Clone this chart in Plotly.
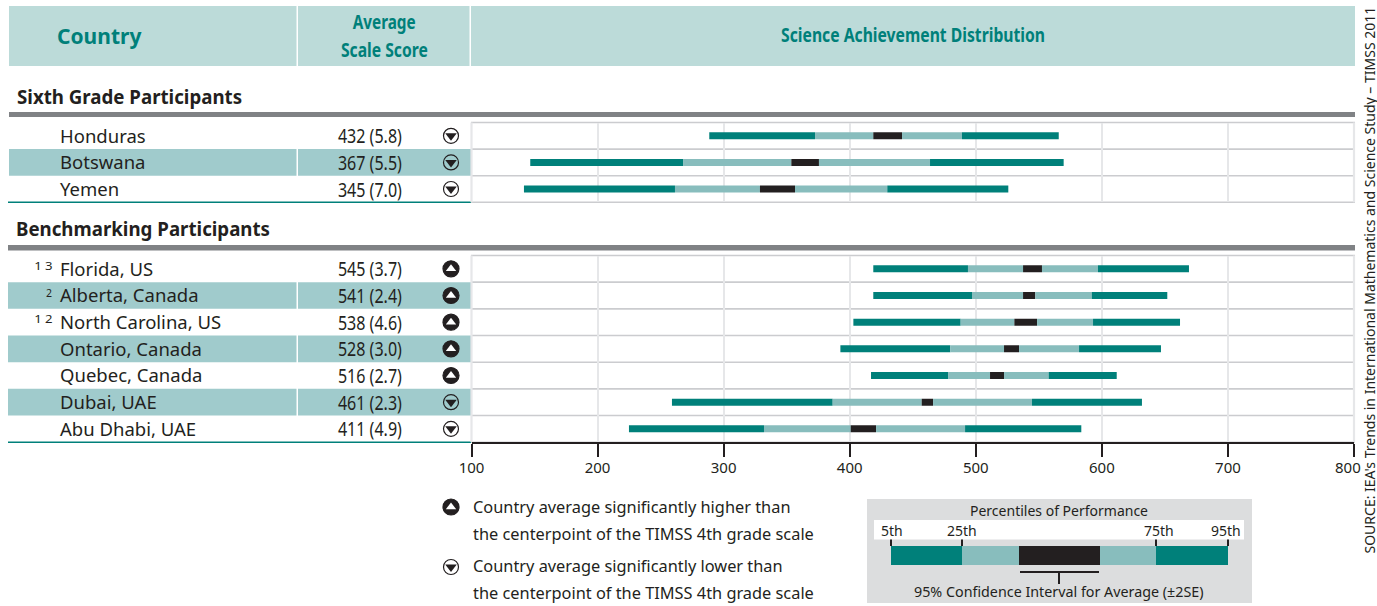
import json
import plotly.graph_objects as go

W, H = 1377, 606

# ---- data -----
sixth_names = ["Honduras", "Botswana", "Yemen"]
sixth_scores = ["432 (5.8)", "367 (5.5)", "345 (7.0)"]
sixth_sig = ["down", "down", "down"]
sixth_p5 = [288.6, 146.6, 141.6]
sixth_p25 = [372.5, 267.8, 261.4]
sixth_lo = [418.7, 353.7, 328.8]
sixth_hi = [441.5, 375.6, 356.6]
sixth_p75 = [489.0, 463.7, 429.8]
sixth_p95 = [565.8, 569.7, 525.8]

bench_names = ["Florida, US", "Alberta, Canada", "North Carolina, US", "Ontario, Canada",
               "Quebec, Canada", "Dubai, UAE", "Abu Dhabi, UAE"]
bench_notes = ["1 3", "2", "1 2", "", "", "", ""]
bench_scores = ["545 (3.7)", "541 (2.4)", "538 (4.6)", "528 (3.0)", "516 (2.7)", "461 (2.3)", "411 (4.9)"]
bench_sig = ["up", "up", "up", "up", "up", "down", "down"]
bench_p5 = [418.7, 418.7, 402.9, 392.6, 416.9, 259.0, 224.9]
bench_p25 = [493.8, 497.0, 488.0, 479.8, 478.0, 386.5, 332.0]
bench_lo = [537.5, 537.5, 530.6, 522.4, 511.3, 457.1, 400.8]
bench_hi = [552.5, 547.2, 548.6, 534.3, 522.4, 466.1, 420.9]
bench_p75 = [596.9, 592.0, 593.0, 581.9, 557.8, 544.6, 491.5]
bench_p95 = [669.1, 651.9, 662.0, 646.9, 611.8, 631.8, 583.7]

tick_values = [100, 200, 300, 400, 500, 600, 700, 800]
key_labels = ["5th", "25th", "75th", "95th"]
key_edges = [0, 71, 128, 209, 265, 337]

# ---- style ----
TEAL = "#00807a"
LIGHT = "#88bdbd"
BLACK = "#231f20"
HEAD = "#bcdbd9"
BAND = "#a0cbcc"
RULE = "#808285"
HLINE = "#cbcccf"
VGRID = "#e6e7e9"
KEYBG = "#dcddde"
SANS = "Noto Sans"
SEGS = [(TEAL, 0), (LIGHT, 1), (BLACK, 2), (LIGHT, 3), (TEAL, 4)]

# condensed texts: target width of the rendered string, in pixels
narrow_widths = {s: 64 for s in sixth_scores + bench_scores}
narrow_widths.update({"Average": 63, "Scale Score": 87, "Science Achievement Distribution": 264,
                      "1 3": 18.5, "1 2": 18.5})

px = lambda x: x / W
py = lambda y: 1 - y / H

fig = go.Figure()


def add_rows(names, yaxis, cols):
    for colour, i in SEGS:
        fig.add_trace(go.Bar(
            y=names, x=[b - a for a, b in zip(cols[i], cols[i + 1])], base=cols[i],
            orientation="h", width=0.262, marker=dict(color=colour, line_width=0),
            xaxis="x", yaxis=yaxis, showlegend=False, hoverinfo="skip"))


def add_icon(ys, yaxis, kind, inner, outer):
    xs = [0.5] * len(ys)
    fig.add_trace(go.Scatter(
        x=xs, y=ys, mode="markers", xaxis="x2", yaxis=yaxis, showlegend=False, hoverinfo="skip",
        marker=dict(symbol=outer, size=16 if kind == "up" else 15, color=BLACK, line=dict(color=BLACK, width=1.2))))
    fig.add_trace(go.Scatter(
        x=xs, y=ys, mode="markers", xaxis="x2", yaxis=yaxis, showlegend=False, hoverinfo="skip",
        marker=dict(symbol=inner, size=9 if kind == "up" else 10, color="white" if kind == "up" else BLACK, line_width=0)))


def add_icons(names, sig, yaxis):
    for kind, inner, outer in [("up", "triangle-up", "circle"), ("down", "triangle-down", "circle-open")]:
        ys = [n for n, s in zip(names, sig) if s == kind]
        if ys:
            add_icon(ys, yaxis, kind, inner, outer)


add_rows(sixth_names, "y", [sixth_p5, sixth_p25, sixth_lo, sixth_hi, sixth_p75, sixth_p95])
add_rows(bench_names, "y2", [bench_p5, bench_p25, bench_lo, bench_hi, bench_p75, bench_p95])
add_icons(sixth_names, sixth_sig, "y")
add_icons(bench_names, bench_sig, "y2")

# legend icons
add_icon([10], "y4", "up", "triangle-up", "circle")
add_icon([70], "y4", "down", "triangle-down", "circle-open")

# key bar
for (colour, i) in SEGS:
    fig.add_trace(go.Bar(
        y=["key"], x=[key_edges[i + 1] - key_edges[i]], base=[key_edges[i]], orientation="h", width=1,
        marker=dict(color=colour, line_width=0), xaxis="x3", yaxis="y3", showlegend=False, hoverinfo="skip"))

shapes, ann = [], []


def rect(x0, y0, x1, y1, colour):
    shapes.append(dict(type="rect", xref="paper", yref="paper", x0=px(x0), x1=px(x1), y0=py(y0), y1=py(y1),
                       fillcolor=colour, line_width=0, layer="below"))


def hline(x0, x1, y, colour, width):
    shapes.append(dict(type="line", xref="paper", yref="paper", x0=px(x0), x1=px(x1), y0=py(y), y1=py(y),
                       line=dict(color=colour, width=width), layer="below"))


def vline(x, y0, y1, colour, width, layer="above"):
    shapes.append(dict(type="line", xref="paper", yref="paper", x0=px(x), x1=px(x), y0=py(y0), y1=py(y1),
                       line=dict(color=colour, width=width), layer=layer))


def text(x, y, s, size, colour=BLACK, family=SANS, anchor="left", bold=False, angle=0, yanchor="middle"):
    ann.append(dict(xref="paper", yref="paper", x=px(x), y=py(y), text=s,
                    showarrow=False, xanchor=anchor, yanchor=yanchor, textangle=angle,
                    font=dict(family=family, size=size, color=colour, weight=700 if bold else 400)))


# header
rect(9, 6, 296.5, 66, HEAD)
rect(298, 6, 469.5, 66, HEAD)
rect(471, 6, 1355, 66, HEAD)
text(55, 36, "Country", 21, TEAL, SANS, bold=True)
text(384, 21, "Average", 20, TEAL, SANS, "center", True)
text(384, 49.5, "Scale Score", 20, TEAL, SANS, "center", True)
text(913, 35, "Science Achievement Distribution", 20, TEAL, SANS, "center", True)

# section heads + rules
text(15, 96, "Sixth Grade Participants", 18.7, BLACK, SANS, bold=True)
text(14, 229, "Benchmarking Participants", 18.7, BLACK, SANS, bold=True)
rect(9, 112, 1355, 117, RULE)
rect(8, 245, 1355, 250.5, RULE)


def table(names, scores, notes, y_top, y_bot):
    n = len(names)
    h = (y_bot - y_top) / n
    for i, name in enumerate(names):
        yc = y_top + h * (i + .5)
        if i % 2 == 1:
            rect(9 if n == 3 else 8, y_top + h * i, 296.5, y_top + h * (i + 1), BAND)
            rect(298, y_top + h * i, 471, y_top + h * (i + 1), BAND)
        text(58, yc - 0.7, name, 18.5, BLACK)
        text(370, yc + 0.5, scores[i], 19, BLACK, SANS, "center")
        if notes[i]:
            text(43.5 if len(notes[i]) > 1 else 49.5, yc - 3, notes[i], 10.5, BLACK, SANS, "center")
        hline(471, 1355, y_top + h * i, HLINE, 1.6)
    hline(471, 1355, y_bot, HLINE, 1.6)
    hline(8, 471, y_bot, TEAL, 1.6)
    vline(471.5, y_top, y_bot, VGRID, 2.2, "below")
    vline(1354, y_top, y_bot, VGRID, 2.2, "below")


T1, B1, T2, B2 = 122.5, 202.3, 255.5, 442.2
table(sixth_names, sixth_scores, [""] * 3, T1, B1)
table(bench_names, bench_scores, bench_notes, T2, B2)

# legend text
text(471, 507, "Country average significantly higher than", 16.35)
text(471, 534, "the centerpoint of the TIMSS 4th grade scale", 16.35)
text(471, 566, "Country average significantly lower than", 16.35)
text(471, 593, "the centerpoint of the TIMSS 4th grade scale", 16.35)

# key
rect(867, 499, 1252, 603, KEYBG)
rect(874, 520, 1244, 539.5, "white")
text(1059, 510, "Percentiles of Performance", 14, BLACK, SANS, "center")
for s, xc, tick in zip(key_labels, [892, 962, 1159, 1226], [891, 962, 1156, 1228]):
    text(xc, 530, s, 14, BLACK, SANS, "center")
    vline(tick, 539.5, 546, BLACK, 2)
vline(1059, 572, 584, BLACK, 2)
hline(1020, 1099, 572, BLACK, 2)
text(1059, 591, "95% Confidence Interval for Average (±2SE)", 14.3, BLACK, SANS, "center")

# source
text(1369, 556, "SOURCE: IEA's Trends in International Mathematics and Science Study – TIMSS 2011", 14,
     BLACK, SANS, "center", angle=-90, yanchor="bottom")

# shifted last axis label
ann.append(dict(xref="x", yref="paper", x=800, y=py(467), text="800", showarrow=False, xshift=-6,
                font=dict(family=SANS, size=15, color=BLACK), xanchor="center", yanchor="middle"))

fig.update_layout(
    template="none",
    width=W, height=H, margin=dict(l=0, r=0, t=0, b=0, pad=0), autosize=False,
    paper_bgcolor="white", plot_bgcolor="rgba(0,0,0,0)", barmode="overlay", showlegend=False,
    shapes=shapes, annotations=ann,
    xaxis=dict(domain=[px(471.5), px(1354)], range=[100, 800], anchor="y2", tickmode="array",
               tickvals=tick_values, ticktext=[str(t) if t != 800 else " " for t in tick_values],
               ticks="outside", ticklen=13, tickwidth=2.4, tickcolor=BLACK,
               showline=True, linecolor=BLACK, linewidth=2.4, automargin=False,
               showgrid=True, gridcolor=VGRID, gridwidth=2.2, zeroline=False,
               tickfont=dict(family=SANS, size=15, color=BLACK), ticklabelstandoff=-2),
    yaxis=dict(domain=[py(B1), py(T1)], type="category", categoryorder="array", categoryarray=sixth_names,
               range=[len(sixth_names) - .5, -.5], visible=False, anchor="x", automargin=False),
    yaxis2=dict(domain=[py(B2), py(T2)], type="category", categoryorder="array", categoryarray=bench_names,
                range=[len(bench_names) - .5, -.5], visible=False, anchor="x", automargin=False),
    xaxis2=dict(domain=[px(441), px(461)], range=[0, 1], visible=False, anchor="y"),
    xaxis3=dict(domain=[px(891), px(1228)], range=[0, 337], visible=False, anchor="y3"),
    yaxis3=dict(domain=[py(565), py(546)], type="category", visible=False, anchor="x3", range=[-.5, .5]),
    yaxis4=dict(domain=[py(577), py(497)], range=[80, 0], visible=False, anchor="x2"),
)

post = """
document.body.style.margin='0';
(function(){
  var targets = %s;
  var gd = document.getElementById('{plot_id}');
  function squeeze(){
    gd.querySelectorAll('.annotation-text').forEach(function(t){
      var w = targets[t.textContent];
      if(w){ t.setAttribute('lengthAdjust','spacingAndGlyphs'); t.setAttribute('textLength', w); }
    });
  }
  squeeze();
  gd.on('plotly_afterplot', squeeze);
})();
""" % json.dumps(narrow_widths)

fig.write_html("out.html", post_script=post, config={"displayModeBar": False})
